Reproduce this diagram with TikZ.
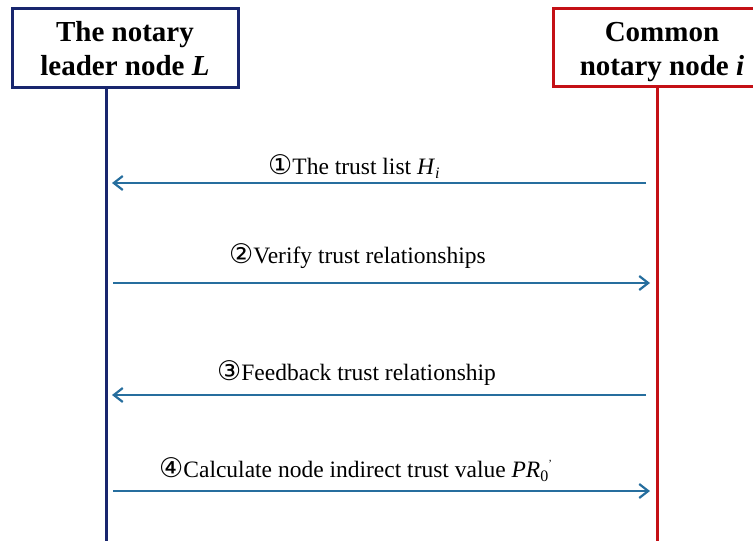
\documentclass[tikz,border=0pt]{standalone}
\usepackage{fontspec}
\setmainfont{Liberation Serif}
\newfontfamily\circfont{DejaVu Sans}
\usetikzlibrary{arrows.meta}
\definecolor{leadnavy}{RGB}{24,38,110}
\definecolor{commred}{RGB}{196,16,22}
\definecolor{msgblue}{RGB}{38,110,158}
\newcommand{\circnum}[1]{{\circfont\fontsize{27}{28}\selectfont #1}}
\begin{document}
\begin{tikzpicture}[x=1pt,y=-1pt,
  actorbox/.style={draw, line width=3pt, fill=white, inner sep=0pt},
  actortext/.style={align=center, inner sep=0pt,
    font=\fontsize{29}{34}\selectfont\bfseries},
  lifeline/.style={line width=3pt},
  msg/.style={draw=msgblue, line width=2.2pt,
    -{Straight Barb[length=9pt,width=14pt,line width=2.2pt]}},
  msglabel/.style={font=\fontsize{23.5}{28}\selectfont, inner sep=0pt}]
  \useasboundingbox (0,0) rectangle (753,541);
  \clip (0,0) rectangle (753,541);

  % participants
  \node[actorbox, draw=leadnavy, minimum width=226pt, minimum height=79pt]
    (L) at (125,47.5) {};
  \node[actortext] (Lt) at (125,51.2) {\strut The notary\\leader node \textit{L}\strut};
  \node[actorbox, draw=commred, minimum width=214pt, minimum height=78pt]
    (C) at (660,47) {};
  \node[actortext] (Ct) at (662,51.2) {\strut Common\\notary node \textit{i}\strut};

  % lifelines
  \coordinate (Lend) at (106,545);
  \coordinate (Cend) at (657,545);
  \draw[lifeline, leadnavy] (L.south -| Lend) -- (Lend);
  \draw[lifeline, commred] (C.south -| Cend) -- (Cend);

  % message anchors on the lifelines
  \coordinate (c1) at (646,183);  \coordinate (l1) at (112,183);
  \coordinate (l2) at (113,283);  \coordinate (c2) at (650,283);
  \coordinate (c3) at (646,395);  \coordinate (l3) at (112,395);
  \coordinate (l4) at (113,491);  \coordinate (c4) at (650,491);

  \draw[msg] (c1) -- (l1);
  \draw[msg] (l2) -- (c2);
  \draw[msg] (c3) -- (l3);
  \draw[msg] (l4) -- (c4);

  % message labels
  \node[msglabel, anchor=base west] (t1) at (268,174)
    {\circnum{①}The trust list \textit{H}\raisebox{-4pt}{\fontsize{16}{16}\selectfont\textit{i}}};
  \node[msglabel, anchor=base west] (t2) at (229,263)
    {\circnum{②}Verify trust relationships};
  \node[msglabel, anchor=base west] (t3) at (217,380)
    {\circnum{③}Feedback trust relationship};
  \node[msglabel, anchor=base west] (t4) at (159,477)
    {\circnum{④}Calculate node indirect trust value \textit{PR}\raisebox{-4pt}{\fontsize{16}{16}\selectfont 0}\raisebox{10pt}{\fontsize{11}{11}\selectfont '}};
\end{tikzpicture}
\end{document}
